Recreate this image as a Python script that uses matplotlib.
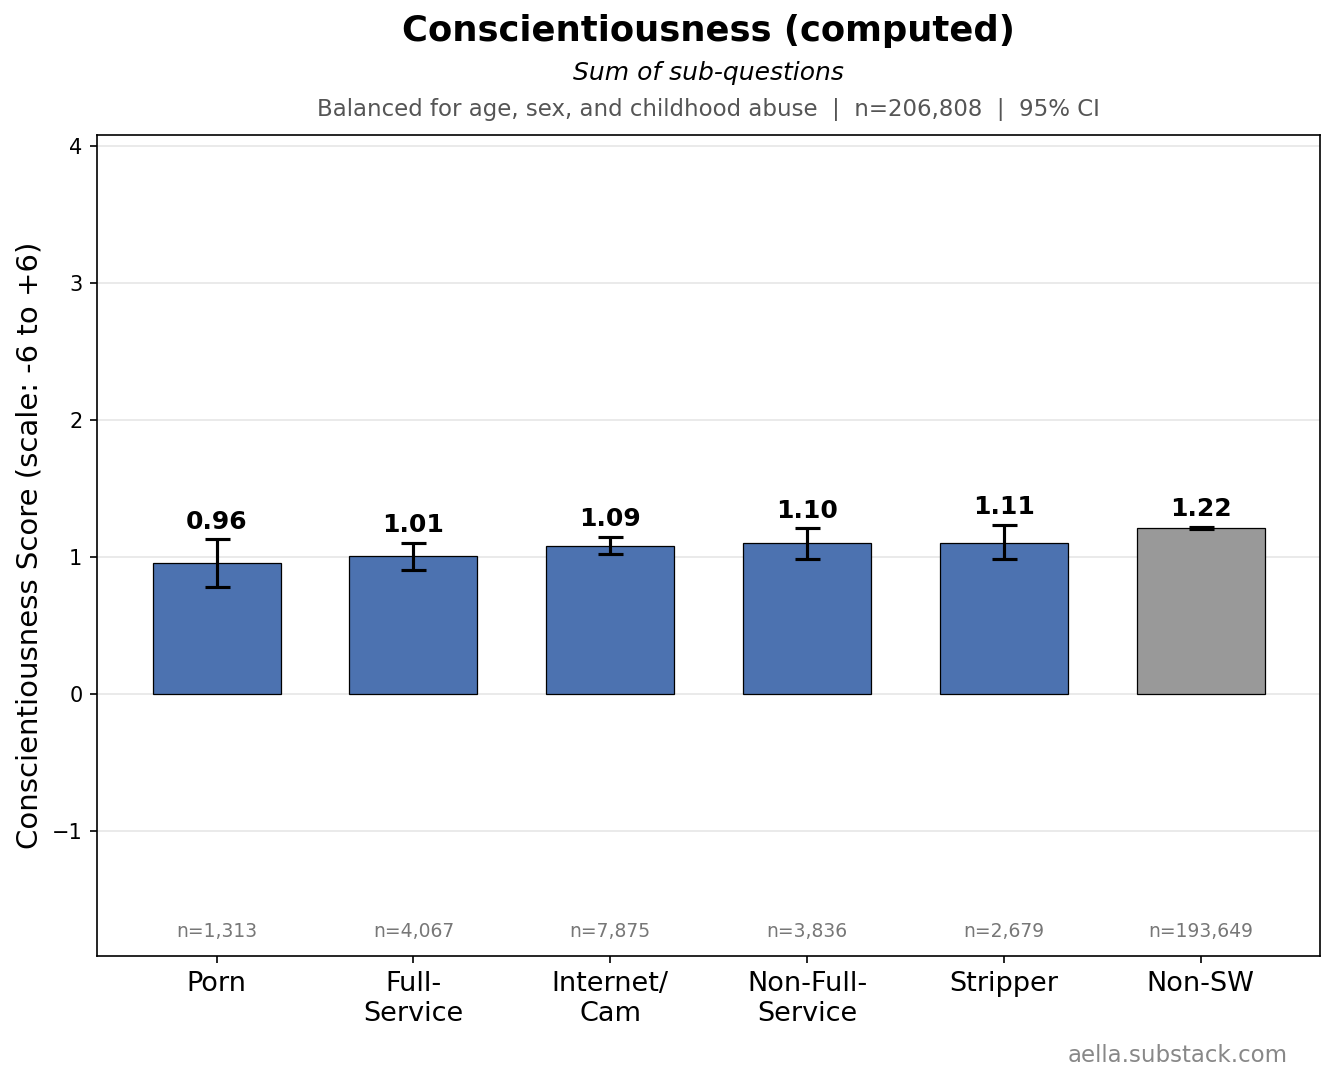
import numpy as np
import matplotlib
matplotlib.use("Agg")
import matplotlib.pyplot as plt

# values
groups = ["Porn", "Full-\nService", "Internet/\nCam", "Non-Full-\nService", "Stripper", "Non-SW"]
means = [0.955, 1.01, 1.085, 1.10, 1.10, 1.215]
value_labels = ["0.96", "1.01", "1.09", "1.10", "1.11", "1.22"]
ci_low = [0.78, 0.91, 1.02, 0.99, 0.985, 1.205]
ci_high = [1.13, 1.107, 1.15, 1.21, 1.235, 1.222]
counts = ["n=1,313", "n=4,067", "n=7,875", "n=3,836", "n=2,679", "n=193,649"]
colors = ["#4C72B0"] * 5 + ["#999999"]

fig = plt.figure(figsize=(1334 / 150, 1084 / 150), dpi=150)
ax = fig.add_axes([0.0727, 0.118, 0.917, 0.7575])

x = np.arange(len(groups))
means = np.array(means)
yerr = np.array([means - np.array(ci_low), np.array(ci_high) - means])

ax.bar(x, means, width=0.65, color=colors, edgecolor="black", linewidth=0.6, zorder=2)
ax.errorbar(x, means, yerr=yerr, fmt="none", ecolor="black", elinewidth=1.5,
            capsize=6, capthick=1.5, zorder=3)

for i, lab in enumerate(value_labels):
    ax.text(x[i], ci_high[i] + 0.04, lab, ha="center", va="bottom",
            fontsize=12, fontweight="bold")
    ax.text(x[i], -1.73, counts[i], ha="center", va="center", fontsize=9, color="#777777")

ax.set_ylim(-1.91, 4.08)
ax.set_yticks([-1, 0, 1, 2, 3, 4])
ax.set_xticks(x)
ax.set_xticklabels(groups, fontsize=13)
ax.tick_params(axis="y", labelsize=10)
ax.set_ylabel("Conscientiousness Score (scale: -6 to +6)", fontsize=14)
ax.yaxis.grid(True, color="#e6e6e6", linewidth=0.8, zorder=0)
ax.set_axisbelow(True)

fig.text(0.531, 0.971, "Conscientiousness (computed)", ha="center", va="center",
         fontsize=17, fontweight="bold")
fig.text(0.531, 0.933, "Sum of sub-questions", ha="center", va="center",
         fontsize=12, style="italic")
fig.text(0.531, 0.899, "Balanced for age, sex, and childhood abuse  |  n=206,808  |  95% CI",
         ha="center", va="center", fontsize=11, color="#555555")
fig.text(0.965, 0.026, "aella.substack.com", ha="right", va="center",
         fontsize=11, color="#888888")

fig.savefig("out.png", dpi=150)
